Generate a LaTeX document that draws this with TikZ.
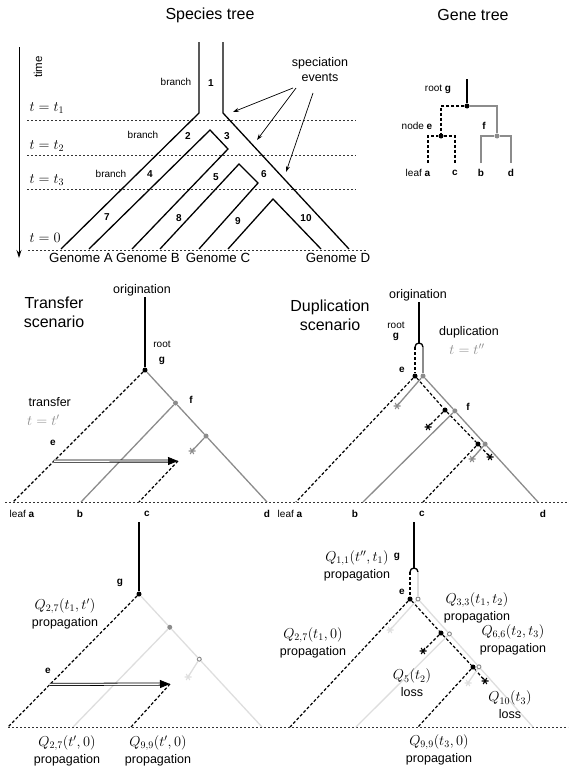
\documentclass[tikz,border=0pt]{standalone}
\usepackage[no-math]{fontspec}
\setmainfont{Liberation Sans}
\usetikzlibrary{arrows.meta, calc}

\colorlet{gline}{black!45}
\colorlet{fline}{black!13}
\newcommand{\qm}[1]{{\fontsize{14}{17}\selectfont$#1$}}

\begin{document}
\begin{tikzpicture}[
    x=1pt, y=-1pt,
    >=Stealth,
    txttl/.style={font=\fontsize{16}{19}\selectfont, align=center},
    txbig/.style={font=\fontsize{13.3}{16}\selectfont},
    txmid/.style={font=\fontsize{12.5}{15}\selectfont, align=center},
    txsml/.style={font=\fontsize{10}{12}\selectfont},
    txbf/.style={font=\fontsize{10}{12}\selectfont\bfseries},
    txmath/.style={font=\fontsize{14}{17}\selectfont},
    qlbl/.style={font=\fontsize{12.5}{17}\selectfont, align=center},
    brline/.style={line width=1.3pt},
    grline/.style={line width=1.3pt, gline},
    fdline/.style={line width=1.3pt, fline},
    dline/.style={line width=1.2pt, dash pattern=on 3pt off 2pt},
    tslice/.style={line width=0.45pt, black!80, dash pattern=on 2pt off 2pt},
    bdot/.style={circle, fill=black, inner sep=0pt, minimum size=5pt},
    gdot/.style={bdot, fill=gline},
    hdot/.style={circle, draw=gline, line width=1pt, inner sep=0pt, minimum size=4pt},
    xfer/.style={double=white, double distance=1.4pt, line width=0.8pt,
                 -{Triangle[length=10pt, width=8pt]}},
    spar/.style={line width=0.7pt, -{Stealth[length=6pt, width=4pt]}},
    losscross/.pic={\draw[line width=1.1pt]
      (-3.5,0) -- (3.5,0) (-1.8,-3) -- (1.8,3) (-1.8,3) -- (1.8,-3);},
]
\useasboundingbox (0,0) rectangle (581,771);

% --- Species tree ---
\node[txttl] (sptitle) at (210,15) {Species tree};

\coordinate (tm0) at (19,47);
\coordinate (tm1) at (19,258);
\draw[line width=1pt, -{Stealth[length=8pt, width=5pt]}] (tm0) -- (tm1);
\node[font=\fontsize{11.5}{13}\selectfont, rotate=90] (tmlab) at (38,67) {time};

% time slices
\coordinate (sl1a) at (27,120);  \coordinate (sl1b) at (356,120);
\coordinate (sl2a) at (27,155);  \coordinate (sl2b) at (356,155);
\coordinate (sl3a) at (27,189);  \coordinate (sl3b) at (356,189);
\coordinate (sl0a) at (28,250);  \coordinate (sl0b) at (368,250);
\draw[tslice] (sl1a) -- (sl1b);
\draw[tslice] (sl2a) -- (sl2b);
\draw[tslice] (sl3a) -- (sl3b);
\draw[tslice] (sl0a) -- (sl0b);

\node[txmath, anchor=west] (lt1) at (26,108) {$t=t_1$};
\node[txmath, anchor=west] (lt2) at (26,146) {$t=t_2$};
\node[txmath, anchor=west] (lt3) at (26,180) {$t=t_3$};
\node[txmath, anchor=west] (lt0) at (26,238) {$t=0$};

% tree walls
\coordinate (s1a) at (199,42);   \coordinate (s1b) at (199,113);
\coordinate (s1c) at (223,42);   \coordinate (s1d) at (223,113);
\coordinate (sA0) at (61,249);   \coordinate (sA1) at (89,249);
\coordinate (sB0) at (132,249);  \coordinate (sB1) at (160,249);
\coordinate (sC0) at (199,249);  \coordinate (sC1) at (228,249);
\coordinate (sD0) at (321,249);  \coordinate (sD1) at (349,249);
\coordinate (s23) at (210,130);  \coordinate (s35) at (228,149);
\coordinate (s56) at (239,164);  \coordinate (s69) at (258,183);
\coordinate (s910) at (273,199);

\draw[brline] (s1a) -- (s1b) -- (sA0);
\draw[brline] (s1c) -- (s1d) -- (sD1);
\draw[brline] (sA1) -- (s23) -- (s35) -- (sB0);
\draw[brline] (sB1) -- (s56) -- (s69) -- (sC0);
\draw[brline] (sC1) -- (s910) -- (sD0);

% branch numbers
\node[txsml] (br1lab) at (176,82) {branch};
\node[txsml] (br2lab) at (143,135) {branch};
\node[txsml] (br4lab) at (111,174) {branch};
\node[txbf] (br1) at (211,83) {1};
\node[txbf] (br2) at (188,136) {2};
\node[txbf] (br3) at (227,136) {3};
\node[txbf] (br4) at (150,174) {4};
\node[txbf] (br5) at (216,177) {5};
\node[txbf] (br6) at (264,174) {6};
\node[txbf] (br7) at (107,217) {7};
\node[txbf] (br8) at (179,218) {8};
\node[txbf] (br9) at (238,221) {9};
\node[txbf] (br10) at (306,218) {10};

\node[txbig] (genA) at (81,258) {Genome A};
\node[txbig] (genB) at (148,258) {Genome B};
\node[txbig] (genC) at (218,258) {Genome C};
\node[txbig] (genD) at (338,258) {Genome D};

% speciation events
\node[txmid] (spec) at (320,70) {speciation\\events};
\coordinate (ev1s) at (293,88);  \coordinate (ev1) at (233,112);
\coordinate (ev2s) at (296,88);  \coordinate (ev2) at (257,140);
\coordinate (ev3s) at (313,93);  \coordinate (ev3) at (286,172);
\draw[spar] (ev1s) -- (ev1);
\draw[spar] (ev2s) -- (ev2);
\draw[spar] (ev3s) -- (ev3);

% --- Gene tree ---
\node[txttl] (gttitle) at (473,15) {Gene tree};
\coordinate (gtop) at (467,79);
\node[bdot] (gg) at (467,106) {};
\node[bdot] (ge) at (441,136) {};
\node[gdot] (gf) at (497,136) {};
\coordinate (ga) at (428,163);
\coordinate (gc) at (455,163);
\coordinate (gb) at (481,163);
\coordinate (gd) at (511,163);

\draw[brline] (gtop) -- (gg);
\draw[dline] (gg) -| (ge);
\draw[dline] (ga) |- (ge) -| (gc);
\draw[grline] (gg) -| (gf);
\draw[grline] (gb) |- (gf) -| (gd);

\node[txsml] (groot) at (438,89) {root \textbf{g}};
\node[txsml] (gnode) at (417,126) {node \textbf{e}};
\node[txbf] (gflab) at (484,126) {f};
\node[txsml] (galab) at (418,173) {leaf \textbf{a}};
\node[txbf] (gclab) at (455,173) {c};
\node[txbf] (gblab) at (481,173) {b};
\node[txbf] (gdlab) at (511,173) {d};

% --- Transfer scenario ---
\node[txttl] (trtitle) at (54,312) {Transfer\\scenario};
\node[txmid] (trorig) at (142,290) {origination};
\coordinate (trtop) at (145,297);
\node[bdot] (trg) at (145,370) {};
\coordinate (tra) at (13,502);
\coordinate (trb) at (81,502);
\coordinate (trc) at (139,502);
\coordinate (trd) at (267,502);
\node[gdot] (trf) at ($(trg)!0.25!(trd)$) {};
\node[gdot] (trh) at ($(trg)!0.5!(trd)$) {};
\coordinate (trx) at (192,451);
\coordinate (tre) at ($(trg)!0.69!(tra)$);
\coordinate (trt) at (178,461);

\draw[brline] (trtop) -- (trg);
\draw[dline] (trg) -- (tra);
\draw[grline] (trg) -- (trf) -- (trh) -- (trd);
\draw[grline] (trf) -- (trb);
\draw[grline] (trh) -- (trx);
\pic[gline] at (trx) {losscross};
\draw[dline] (trt) -- (trc);
\draw[xfer] (tre) -- (trt);

\node[txsml] (trroot) at (162,344) {root};
\node[txbf] (trglab) at (162,361) {g};
\node[txbf] (trflab) at (191,400) {f};
\node[txbf] (trelab) at (53,443) {e};
\node[txmid, anchor=west] (trtrans) at (25,402) {transfer};
\node[txmath, anchor=west, text=gline, inner sep=1pt] (trtime) at (26,420) {$t=t'$};

\node[txsml] (tralab) at (22,514) {leaf \textbf{a}};
\node[txbf] (trblab) at (80,514) {b};
\node[txbf] (trclab) at (147,514) {c};
\node[txbf] (trdlab) at (267,514) {d};

\coordinate (bs1a) at (5,502);
\coordinate (bs1b) at (568,502);
\draw[tslice] (bs1a) -- (bs1b);

% --- Duplication scenario ---
\node[txttl] (dutitle) at (330,315) {Duplication\\scenario};
\node[txmid] (duorig) at (418,295) {origination};
\coordinate (dutop) at (419,302);
\coordinate (duk) at (419,343);
\coordinate (dul) at (415,347);
\coordinate (dur) at (423,347);
\node[bdot] (due) at (415,376) {};
\node[gdot] (dug) at (423,376) {};
\coordinate (dua) at (296,502);
\coordinate (dub) at (363,502);
\coordinate (duc) at (423,502);
\coordinate (dud) at (538,502);
\node[gdot] (duf) at ($(dug)!0.277!(dud)$) {};
\node[gdot] (duh) at ($(dug)!0.54!(dud)$) {};
\node[bdot] (duf2) at (445,410) {};
\node[bdot] (duh2) at (478,444) {};
\coordinate (dux1) at (490,457);
\coordinate (dux2) at (428,427);
\coordinate (dux3) at (397,406);
\coordinate (dux4) at (472,459);

\draw[brline] (dutop) -- (duk);
\draw[brline] (dul) arc[start angle=180, end angle=0, radius=4pt];
\draw[dline] (dul) -- (due);
\draw[grline] (dur) -- (dug);
\draw[dline] (due) -- (dua);
\draw[dline] (due) -- (duf2) -- (duh2) -- (dux1);
\draw[dline] (duf2) -- (dux2);
\draw[dline] (duh2) -- (duc);
\draw[grline] (dug) -- (duf) -- (duh) -- (dud);
\draw[grline] (dug) -- (dux3);
\draw[grline] (duf) -- (dub);
\draw[grline] (duh) -- (dux4);
\pic[black] at (dux1) {losscross};
\pic[black] at (dux2) {losscross};
\pic[gline] at (dux3) {losscross};
\pic[gline] at (dux4) {losscross};

\node[txsml] (duroot) at (396,325) {root};
\node[txbf] (duglab) at (396,337) {g};
\node[txbf] (duelab) at (402,370) {e};
\node[txbf] (duflab) at (468,407) {f};
\node[txmid] (dudup) at (469,332) {duplication};
\node[txmath, text=gline] (dutime) at (467,349) {$t=t''$};

\node[txsml] (dualab) at (290,514) {leaf \textbf{a}};
\node[txbf] (dublab) at (355,514) {b};
\node[txbf] (duclab) at (422,514) {c};
\node[txbf] (dudlab) at (543,514) {d};

% --- Transfer likelihood ---
\coordinate (lttop) at (139,522);
\node[bdot] (ltg) at (139,594) {};
\coordinate (lta) at (8,727);
\coordinate (ltb) at (73,727);
\coordinate (ltc) at (131,727);
\coordinate (ltd) at (262,727);
\node[gdot] (ltf) at ($(ltg)!0.25!(ltd)$) {};
\node[hdot] (lth) at ($(ltg)!0.49!(ltd)$) {};
\coordinate (ltx) at (188,677);
\coordinate (lte) at ($(ltg)!0.68!(lta)$);
\coordinate (ltt) at (170,684);

\draw[brline] (lttop) -- (ltg);
\draw[dline] (ltg) -- (lta);
\draw[fdline] (ltg) -- (ltf) -- (lth) -- (ltd);
\draw[fdline] (ltf) -- (ltb);
\draw[fdline] (lth) -- (ltx);
\pic[fline] at (ltx) {losscross};
\draw[dline] (ltt) -- (ltc);
\draw[xfer] (lte) -- (ltt);

\node[txbf] (ltglab) at (120,583) {g};
\node[txbf] (ltelab) at (48,671) {e};
\node[qlbl] (ltq1) at (65,614) {\qm{Q_{2,7}(t_1,t')}\\propagation};
\node[qlbl] (ltq2) at (67,751) {\qm{Q_{2,7}(t',0)}\\propagation};
\node[qlbl] (ltq3) at (158,751) {\qm{Q_{9,9}(t',0)}\\propagation};

\coordinate (bs2a) at (8,727);
\coordinate (bs2b) at (568,727);
\draw[tslice] (bs2a) -- (bs2b);

% --- Duplication likelihood ---
\coordinate (ldtop) at (414,522);
\coordinate (ldk) at (414,568);
\coordinate (ldl) at (410,572);
\coordinate (ldr) at (418,572);
\node[bdot] (lde) at (410,599) {};
\node[hdot] (ldg) at (418,599) {};
\coordinate (lda) at (290,727);
\coordinate (ldb) at (356,727);
\coordinate (ldc) at (418,727);
\coordinate (ldd) at (533,727);
\node[hdot] (ldf) at ($(ldg)!0.273!(ldd)$) {};
\node[hdot] (ldh) at ($(ldg)!0.53!(ldd)$) {};
\node[bdot] (ldf2) at (441,633) {};
\node[bdot] (ldh2) at (473,667) {};
\coordinate (ldx1) at (485,681);
\coordinate (ldx2) at (423,651);
\coordinate (ldx3) at (390,630);
\coordinate (ldx4) at (468,683);

\draw[brline] (ldtop) -- (ldk);
\draw[brline] (ldl) arc[start angle=180, end angle=0, radius=4pt];
\draw[dline] (ldl) -- (lde);
\draw[fdline] (ldr) -- (ldg);
\draw[dline] (lde) -- (lda);
\draw[dline] (lde) -- (ldf2) -- (ldh2) -- (ldx1);
\draw[dline] (ldf2) -- (ldx2);
\draw[dline] (ldh2) -- (ldc);
\draw[fdline] (ldg) -- (ldf) -- (ldh) -- (ldd);
\draw[fdline] (ldg) -- (ldx3);
\draw[fdline] (ldf) -- (ldb);
\draw[fdline] (ldh) -- (ldx4);
\pic[black] at (ldx1) {losscross};
\pic[black] at (ldx2) {losscross};
\pic[fline] at (ldx3) {losscross};
\pic[fline] at (ldx4) {losscross};

\node[txbf] (ldglab) at (397,557) {g};
\node[txbf] (ldelab) at (402,592) {e};
\node[qlbl] (ldq11) at (357,566) {\qm{Q_{1,1}(t'',t_1)}\\propagation};
\node[qlbl] (ldq33) at (477,608) {\qm{Q_{3,3}(t_1,t_2)}\\propagation};
\node[qlbl] (ldq66) at (513,640) {\qm{Q_{6,6}(t_2,t_3)}\\propagation};
\node[qlbl] (ldq27) at (313,643) {\qm{Q_{2,7}(t_1,0)}\\propagation};
\node[qlbl] (ldq5) at (412,683) {\qm{Q_{5}(t_2)}\\loss};
\node[qlbl] (ldq10) at (510,705) {\qm{Q_{10}(t_3)}\\loss};
\node[qlbl] (ldq99) at (439,750) {\qm{Q_{9,9}(t_3,0)}\\propagation};

\end{tikzpicture}
\end{document}
